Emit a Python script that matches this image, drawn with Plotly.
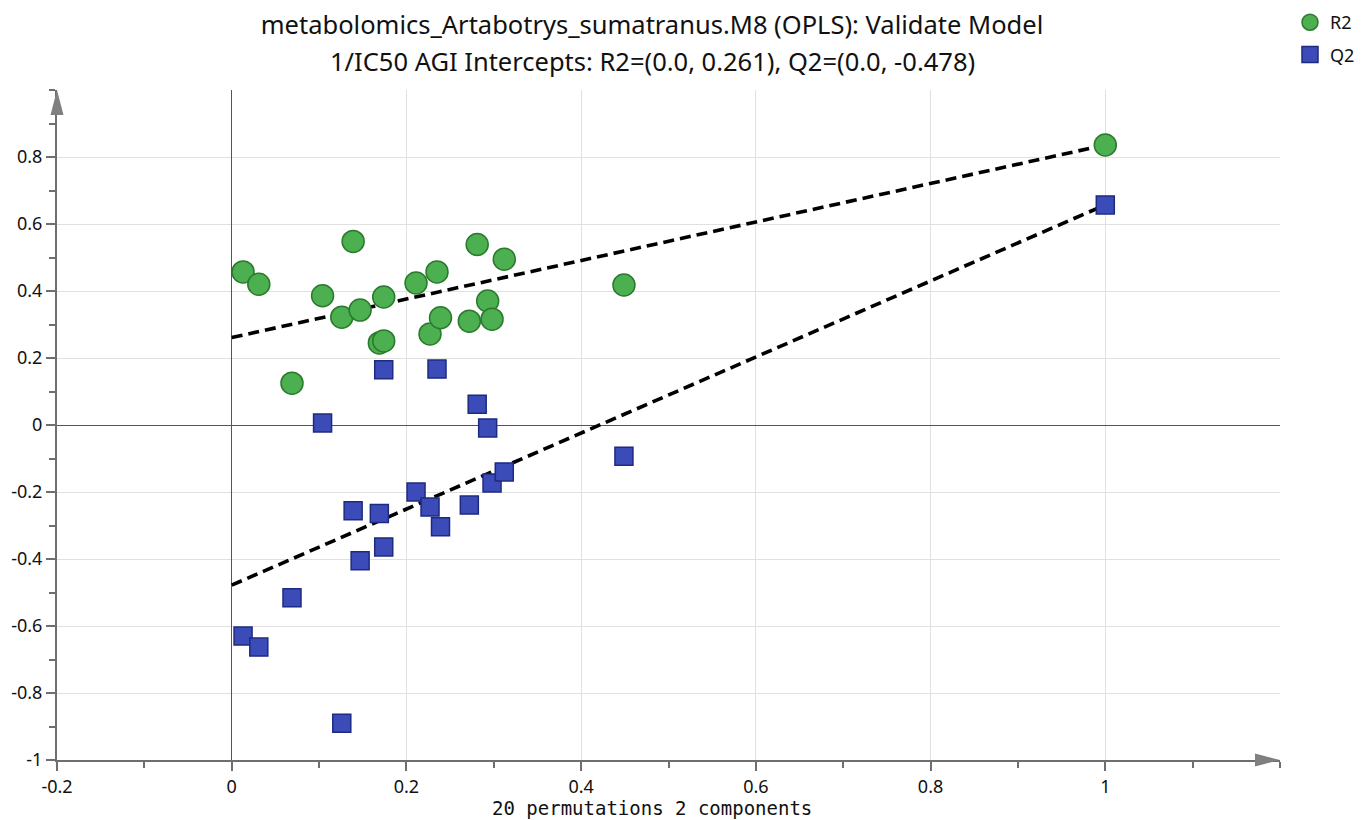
import plotly.graph_objects as go

# ---- data ----
perm_corr = [0.013, 0.031, 0.069, 0.104, 0.126, 0.139, 0.147, 0.169, 0.174, 0.174,
             0.211, 0.227, 0.235, 0.239, 0.272, 0.281, 0.293, 0.298, 0.312, 0.449, 1.0]
r2_vals = [0.457, 0.420, 0.125, 0.386, 0.322, 0.548, 0.343, 0.245, 0.251, 0.382,
           0.424, 0.272, 0.457, 0.320, 0.310, 0.539, 0.370, 0.316, 0.495, 0.418, 0.836]
q2_vals = [-0.630, -0.663, -0.516, 0.006, -0.890, -0.256, -0.405, -0.264, -0.364, 0.165,
           -0.200, -0.245, 0.167, -0.304, -0.239, 0.062, -0.009, -0.173, -0.140, -0.093, 0.657]

reg_x = [0.0, 1.0]
r2_line = [0.261, 0.836]
q2_line = [-0.478, 0.657]

x_ticks = [-0.2, 0, 0.2, 0.4, 0.6, 0.8, 1.0]
x_ticklabels = ["-0.2", "0", "0.2", "0.4", "0.6", "0.8", "1"]
y_ticks = [-1, -0.8, -0.6, -0.4, -0.2, 0, 0.2, 0.4, 0.6, 0.8]
y_ticklabels = ["-1", "-0.8", "-0.6", "-0.4", "-0.2", "0", "0.2", "0.4", "0.6", "0.8"]

title1 = "metabolomics_Artabotrys_sumatranus.M8 (OPLS): Validate Model"
title2 = "1/IC50 AGI Intercepts: R2=(0.0, 0.261), Q2=(0.0, -0.478)"
x_title = "20 permutations 2 components"

FONT = "Noto Sans"
AXC = "#6e6e6e"
# the page body has an 8px margin; the figure is offset by it
OFF = 8
W, H = 1368 - 2 * OFF, 820 - OFF
L, R, T, B = 57 - OFF, W - (1280 - OFF), 90 - OFF, H - (760 - OFF)
PW, PH = W - L - R, H - T - B

fig = go.Figure()
fig.add_trace(go.Scatter(x=reg_x, y=r2_line, mode="lines", showlegend=False, hoverinfo="skip",
                         line=dict(color="black", width=3.6, dash="11px,6px")))
fig.add_trace(go.Scatter(x=reg_x, y=q2_line, mode="lines", showlegend=False, hoverinfo="skip",
                         line=dict(color="black", width=3.6, dash="11px,6px")))
fig.add_trace(go.Scatter(x=perm_corr, y=r2_vals, mode="markers", name="R2", legendgroup="r2",
                         marker=dict(symbol="circle", size=22, color="#4caf50",
                                     line=dict(color="#2b7a2e", width=1.5))))
fig.add_trace(go.Scatter(x=perm_corr, y=q2_vals, mode="markers", name="Q2", legendgroup="q2",
                         marker=dict(symbol="square", size=18, color="#3b4cb8",
                                     line=dict(color="#1e2a80", width=1.5))))

axis_common = dict(
    showline=True, linecolor=AXC, linewidth=2,
    ticks="outside", ticklen=9, tickcolor=AXC, tickwidth=1.5,
    showgrid=True, gridcolor="#e0e0e0", gridwidth=1.3,
    zeroline=True, zerolinecolor="#555", zerolinewidth=1.3,
    minor=dict(dtick=0.1, tick0=0, ticks="outside", ticklen=6, tickcolor=AXC, showgrid=False),
    tickfont=dict(family=FONT, size=18, color="#111"), fixedrange=True, automargin=False,
)

fig.update_layout(
    width=W, height=H,
    margin=dict(l=L, r=R, t=T, b=B, autoexpand=False),
    paper_bgcolor="white", plot_bgcolor="white",
    font=dict(family=FONT, size=18, color="#111"),
    title=dict(text=title1, x=(652 - OFF) / W, xanchor="center", xref="container",
               y=1 - (25 - OFF) / H, yanchor="middle", yref="container",
               font=dict(family=FONT, size=25.5, color="#111")),
    showlegend=True,
    legend=dict(xref="container", yref="paper", x=(1290 - OFF) / W, xanchor="left",
                y=1 + (T + 4) / PH, yanchor="top", tracegroupgap=6,
                font=dict(family=FONT, size=18, color="#111"), bgcolor="rgba(0,0,0,0)"),
    xaxis=dict(range=[-0.2, 1.2], tickvals=x_ticks, ticktext=x_ticklabels,
               ticklabelstandoff=0, **axis_common),
    yaxis=dict(range=[-1, 1.0], tickvals=y_ticks, ticktext=y_ticklabels, **axis_common),
)

fig.add_annotation(text=title2, xref="paper", yref="paper", x=(652 - 57) / PW, xanchor="center",
                   y=1 + (90 - 61) / PH, yanchor="middle", showarrow=False,
                   font=dict(family=FONT, size=25.5, color="#111"))
fig.add_annotation(text=x_title, xref="paper", yref="paper", x=(652 - 57) / PW, xanchor="center",
                   y=-(808 - 760) / PH, yanchor="middle", showarrow=False,
                   font=dict(family="DejaVu Sans Mono", size=19, color="#111"))

# axis arrowheads (paper refs so they are not clipped)
fig.add_shape(type="path", xref="paper", yref="paper", xsizemode="pixel", ysizemode="pixel",
              xanchor=0, yanchor=1, path="M -6.5,-25 L 6.5,-25 L 0,0 Z",
              fillcolor="#808080", line=dict(width=0))
fig.add_shape(type="path", xref="paper", yref="paper", xsizemode="pixel", ysizemode="pixel",
              xanchor=1, yanchor=0, path="M -25,-6.5 L -25,6.5 L 0,0 Z",
              fillcolor="#808080", line=dict(width=0))

fig.write_html("out.html")
